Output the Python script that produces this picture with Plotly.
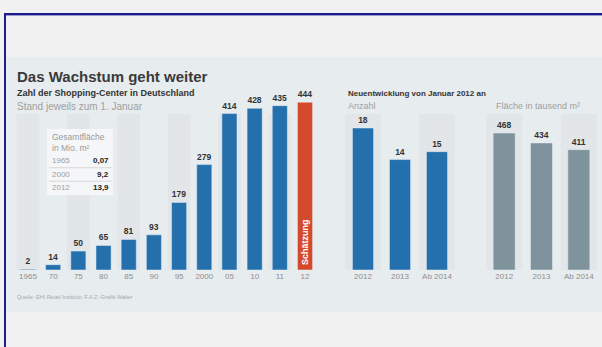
import plotly.graph_objects as go

W, H = 602, 347

# ---- data ----
years = ["1965", "70", "75", "80", "85", "90", "95", "2000", "05", "10", "11", "12"]
centers = [2, 14, 50, 65, 81, 93, 179, 279, 414, 428, 435, 444]
n_actual = 11  # last value is an estimate ("Schätzung")
new_cats = ["2012", "2013", "Ab 2014"]
new_count = [18, 14, 15]
new_area = [468, 434, 411]
inset_years = ["1965", "2000", "2012"]
inset_area = ["0,07", "9,2", "13,9"]

FONT = "Liberation Sans, Arial, sans-serif"
BLUE = "#2470ad"
RED = "#d4492c"
GREY = "#7f939d"
DARK = "#333333"
LIGHT = "#8e8e8e"


def px(x):
    return x / W


def py(y):
    return 1 - y / H


fig = go.Figure()

valfont = dict(size=8.5, color=DARK, family=FONT)
xs = list(range(len(years)))
fig.add_trace(go.Bar(
    x=xs[:n_actual], y=centers[:n_actual], marker_color=BLUE, width=0.6,
    texttemplate="<b>%{y}</b>", textposition="outside", textfont=valfont,
    cliponaxis=False, xaxis="x", yaxis="y", hoverinfo="skip"))
fig.add_trace(go.Bar(
    x=xs[n_actual:], y=centers[n_actual:], marker_color=RED, width=0.6,
    texttemplate="<b>%{y}</b>", textposition="outside", textfont=valfont,
    cliponaxis=False, xaxis="x", yaxis="y", hoverinfo="skip"))

xr = list(range(len(new_cats)))
fig.add_trace(go.Bar(
    x=xr, y=new_count, marker_color=BLUE, width=0.57,
    texttemplate="<b>%{y}</b>", textposition="outside", textfont=valfont,
    cliponaxis=False, xaxis="x2", yaxis="y2", hoverinfo="skip"))
fig.add_trace(go.Bar(
    x=xr, y=new_area, marker_color=GREY, width=0.59,
    texttemplate="<b>%{y}</b>", textposition="outside", textfont=valfont,
    cliponaxis=False, xaxis="x3", yaxis="y3", hoverinfo="skip"))

ydom = [py(270), py(100)]
tickfont = dict(size=8, color=LIGHT, family=FONT)
common_x = dict(showgrid=False, zeroline=False, showline=False, ticks="",
                tickfont=tickfont, fixedrange=True)
common_y = dict(visible=False, domain=ydom, fixedrange=True)

fig.update_layout(
    width=W, height=H, margin=dict(l=0, r=0, t=0, b=0),
    paper_bgcolor="#f1f1f1", plot_bgcolor="rgba(0,0,0,0)",
    showlegend=False, barmode="overlay",
    xaxis=dict(domain=[px(15.4), px(317.6)], range=[-0.5, len(years) - 0.5],
               tickvals=xs, ticktext=years, anchor="y", **common_x),
    yaxis=dict(range=[0, 450], anchor="x", **common_y),
    xaxis2=dict(domain=[px(344.5), px(455.5)], range=[-0.5, len(new_cats) - 0.5],
                tickvals=xr, ticktext=new_cats, anchor="y2", **common_x),
    yaxis2=dict(range=[0, 21.55], anchor="x2", **common_y),
    xaxis3=dict(domain=[px(485.5), px(597.5)], range=[-0.5, len(new_cats) - 0.5],
                tickvals=xr, ticktext=new_cats, anchor="y3", **common_x),
    yaxis3=dict(range=[0, 580.8], anchor="x3", **common_y),
)

STRIPE = "#e2e6e9"
shapes = []
# panel background
shapes.append(dict(type="rect", xref="paper", yref="paper", x0=px(6), x1=1,
                   y0=py(312), y1=py(57), fillcolor="#e7ecef", line_width=0,
                   layer="below"))
# stripes
for i in range(0, len(years), 2):
    shapes.append(dict(type="rect", xref="x", yref="y domain", x0=i - 0.45, x1=i + 0.45,
                       y0=0, y1=0.918, fillcolor=STRIPE, line_width=0, layer="below"))
for ax in ["x2", "x3"]:
    for i in range(0, len(new_cats), 2):
        shapes.append(dict(type="rect", xref=ax, yref=ax.replace("x", "y") + " domain",
                           x0=i - 0.48, x1=i + 0.48, y0=0, y1=0.918,
                           fillcolor=STRIPE, line_width=0, layer="below"))
# inset box
shapes.append(dict(type="rect", xref="paper", yref="paper", x0=px(47), x1=px(113),
                   y0=py(195), y1=py(129), fillcolor="#f5f6f7", line_width=0))
ROW0, ROWSTEP = 161, 13.5
for k in range(1, len(inset_years)):
    yy = ROW0 + k * ROWSTEP - 6.75
    shapes.append(dict(type="line", xref="paper", yref="paper", x0=px(49), x1=px(112),
                       y0=py(yy), y1=py(yy), line=dict(color="#d6d6d6", width=1)))
# frame border
shapes.append(dict(type="line", xref="paper", yref="paper", x0=px(4), x1=1,
                   y0=py(14), y1=py(14), line=dict(color="#1c1c8c", width=2)))
shapes.append(dict(type="line", xref="paper", yref="paper", x0=px(5), x1=px(5),
                   y0=0, y1=py(13), line=dict(color="#1c1c8c", width=2)))
shapes.append(dict(type="line", xref="paper", yref="paper", x0=px(6), x1=1,
                   y0=py(15.5), y1=py(15.5), line=dict(color="#9a9ad0", width=1)))
fig.update_layout(shapes=shapes)

ann = []


def txt(x, y, s, size, color, bold=False, anchor="left"):
    ann.append(dict(xref="paper", yref="paper", x=px(x), y=py(y), text=f"<b>{s}</b>" if bold else s,
                    showarrow=False, xanchor=anchor, yanchor="middle",
                    font=dict(size=size, color=color, family=FONT)))


txt(15, 76, "Das Wachstum geht weiter", 15, "#3a3a3a", bold=True)
txt(15, 93, "Zahl der Shopping-Center in Deutschland", 9, DARK, bold=True)
txt(15, 106, "Stand jeweils zum 1. Januar", 10, "#a0a0a0")
txt(346, 93, "Neuentwicklung von Januar 2012 an", 8, DARK, bold=True)
txt(346, 106, "Anzahl", 9, "#a0a0a0")
txt(494, 106, "Fläche in tausend m²", 9, "#a0a0a0")
txt(15, 297, "Quelle: EHI Retail Institute; F.A.Z.-Grafik Walter", 5.5, "#a8a8a8")
txt(50, 137, "Gesamtfläche", 8.5, "#9a9a9a")
txt(50, 148, "in Mio. m²", 8.5, "#9a9a9a")
for k, (yr, v) in enumerate(zip(inset_years, inset_area)):
    txt(50, ROW0 + k * ROWSTEP, yr, 8, "#a0a0a0")
    txt(111, ROW0 + k * ROWSTEP, v, 8, "#222222", bold=True, anchor="right")

ann.append(dict(xref="x", yref="y", x=xs[-1], y=0, yshift=3, text="<b>Schätzung</b>",
                textangle=-90, showarrow=False, xanchor="center", yanchor="bottom",
                font=dict(size=9, color="white", family=FONT)))
fig.update_layout(annotations=ann)

fig.write_html("out.html")
